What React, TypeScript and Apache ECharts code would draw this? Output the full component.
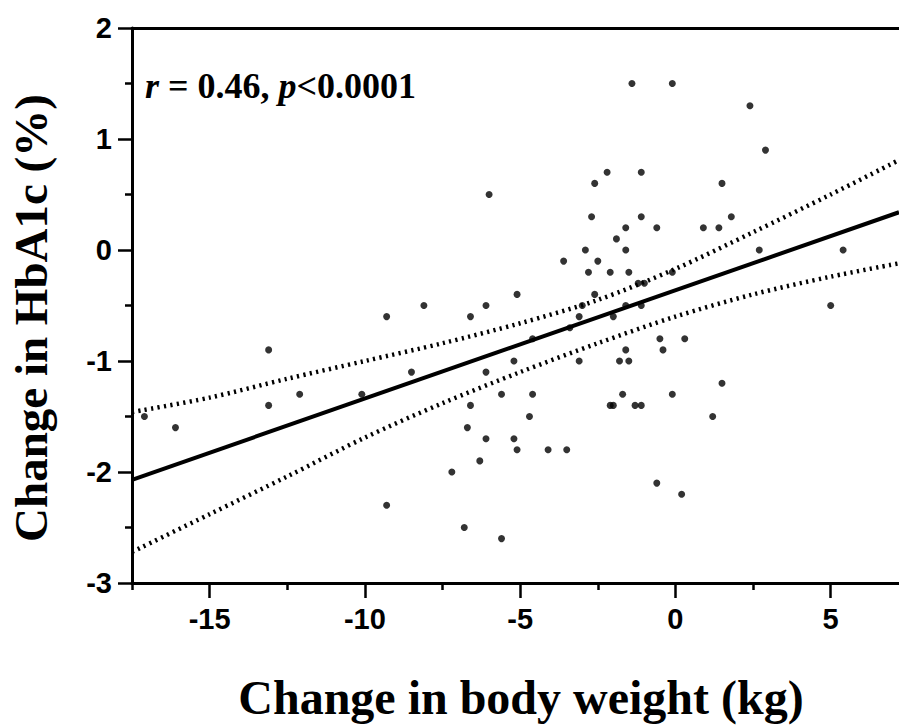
import React, { useEffect, useRef } from "react";
import * as echarts from "echarts";

// Scatter data: change in body weight (kg) vs change in HbA1c (%)
const weightChange = [
  -17.1, -16.1, -13.1, -13.1, -12.1, -10.1, -9.3, -9.3, -8.1, -8.5,
  -7.2, -6.8, -6.7, -6.6, -6.6, -6.3, -6.1, -6.1, -6.1, -6.0,
  -5.6, -5.6, -5.2, -5.2, -5.1, -5.1, -4.7, -4.6, -4.6, -4.1,
  -3.6, -3.5, -3.4, -3.1, -3.0, -3.1, -2.9, -2.8, -2.7, -2.6,
  -2.6, -2.5, -2.2, -2.1, -2.1, -2.0, -2.0, -1.9, -1.8, -1.7,
  -1.6, -1.6, -1.6, -1.6, -1.5, -1.5, -1.4, -1.3, -1.2, -1.1,
  -1.1, -1.1, -1.1, -1.0, -0.6, -0.6, -0.5, -0.4, -0.1, -0.1,
  -0.1, 0.2, 0.3, 0.9, 1.2, 1.4, 1.5, 1.5, 1.8, 2.4,
  2.7, 2.9, 5.0, 5.4,
];
const hba1cChange = [
  -1.5, -1.6, -0.9, -1.4, -1.3, -1.3, -0.6, -2.3, -0.5, -1.1,
  -2.0, -2.5, -1.6, -0.6, -1.4, -1.9, -0.5, -1.1, -1.7, 0.5,
  -1.3, -2.6, -1.0, -1.7, -0.4, -1.8, -1.5, -0.8, -1.3, -1.8,
  -0.1, -1.8, -0.7, -0.6, -0.5, -1.0, 0.0, -0.2, 0.3, 0.6,
  -0.4, -0.1, 0.7, -0.2, -1.4, -1.4, -0.6, 0.1, -1.0, -1.3,
  0.2, 0.0, -0.5, -0.9, -0.2, -1.0, 1.5, -1.4, -0.3, 0.7,
  0.3, -0.5, -1.4, -0.3, 0.2, -2.1, -0.8, -0.9, 1.5, -0.2,
  -1.3, -2.2, -0.8, 0.2, -1.5, 0.2, 0.6, -1.2, 0.3, 1.3,
  0.0, 0.9, -0.5, 0.0,
];

// Regression line and 95% confidence band
const fitX = [-17.5, 7.2];
const fitY = [-2.07, 0.34];
const bandX = [-17.5, -15, -12.5, -10, -7.5, -5, -2.5, 0, 2.5, 5, 7.2];
const upperY = [-1.46, -1.33, -1.16, -1.0, -0.84, -0.66, -0.45, -0.17, 0.16, 0.5, 0.81];
const lowerY = [-2.72, -2.38, -2.04, -1.69, -1.38, -1.1, -0.84, -0.6, -0.4, -0.24, -0.12];

// Axis ticks
const xMajorTicks = [-15, -10, -5, 0, 5];
const xMinorTicks = [-17.5, -12.5, -7.5, -2.5, 2.5];

const tickFont = '"Liberation Sans", Arial, sans-serif';
const serifFont = '"Liberation Serif", "Times New Roman", serif';

export default function App() {
  const ref = useRef<HTMLDivElement>(null);

  useEffect(() => {
    const chart = echarts.init(ref.current!, null, { renderer: "svg" });
    const zip = (a: number[], b: number[]) => a.map((v, i) => [v, b[i]]);
    const black = "#000";
    const dotted = { color: black, width: 4.5, type: [2.2, 4.3] as number[] };

    chart.setOption({
      animation: false,
      backgroundColor: "#fff",
      grid: { left: 132, top: 28, width: 767, height: 555 },
      xAxis: [
        {
          type: "value",
          min: -17.5,
          max: 7.2,
          interval: 2.5,
          position: "bottom",
          axisLine: { show: true, onZero: false, lineStyle: { color: black, width: 3 } },
          axisTick: { show: true, customValues: xMinorTicks, length: 7, lineStyle: { color: black, width: 2.5 } },
          axisLabel: {
            show: true,
            customValues: xMajorTicks,
            margin: 21,
            fontSize: 29,
            fontWeight: "bold",
            fontFamily: tickFont,
            color: black,
          },
          splitLine: { show: false },
        },
        {
          type: "value",
          min: -17.5,
          max: 7.2,
          interval: 2.5,
          position: "bottom",
          axisLine: { show: false, onZero: false },
          axisTick: { show: true, customValues: xMajorTicks, length: 15, lineStyle: { color: black, width: 2.5 } },
          axisLabel: { show: false },
          splitLine: { show: false },
        },
        {
          type: "value",
          min: -17.5,
          max: 7.2,
          position: "top",
          axisLine: { show: true, onZero: false, lineStyle: { color: black, width: 3 } },
          axisTick: { show: false },
          axisLabel: { show: false },
          splitLine: { show: false },
        },
      ],
      yAxis: {
        type: "value",
        min: -3,
        max: 2,
        interval: 1,
        axisLine: { show: true, onZero: false, lineStyle: { color: black, width: 3 } },
        axisTick: { show: true, length: 14, lineStyle: { color: black, width: 2.5 } },
        minorTick: { show: true, splitNumber: 2, length: 7, lineStyle: { color: black, width: 2.5 } },
        axisLabel: {
          margin: 20,
          fontSize: 29,
          fontWeight: "bold",
          fontFamily: tickFont,
          color: black,
        },
        splitLine: { show: false },
        minorSplitLine: { show: false },
      },
      series: [
        {
          type: "line",
          data: zip(fitX, fitY),
          symbol: "none",
          lineStyle: { color: black, width: 4 },
          silent: true,
          z: 3,
        },
        {
          type: "line",
          data: zip(bandX, upperY),
          symbol: "none",
          smooth: 0.3,
          lineStyle: dotted,
          silent: true,
          z: 3,
        },
        {
          type: "line",
          data: zip(bandX, lowerY),
          symbol: "none",
          smooth: 0.3,
          lineStyle: dotted,
          silent: true,
          z: 3,
        },
        {
          type: "scatter",
          data: zip(weightChange, hba1cChange),
          symbol: "circle",
          symbolSize: 7,
          itemStyle: { color: black },
          z: 4,
        },
      ],
      graphic: [
        {
          type: "text",
          x: 31,
          y: 318,
          rotation: Math.PI / 2,
          style: {
            text: "Change in HbA1c (%)",
            fontSize: 47,
            fontWeight: "bold",
            fontFamily: serifFont,
            fill: black,
            align: "center",
            verticalAlign: "middle",
          },
        },
        {
          type: "text",
          x: 521,
          y: 697,
          style: {
            text: "Change in body weight (kg)",
            fontSize: 48,
            fontWeight: "bold",
            fontFamily: serifFont,
            fill: black,
            align: "center",
            verticalAlign: "middle",
          },
        },
        {
          type: "text",
          x: 145,
          y: 86,
          style: {
            text: "{i|r} = 0.46, {i|p}<0.0001",
            fontSize: 36,
            fontWeight: "bold",
            fontFamily: serifFont,
            fill: black,
            align: "left",
            verticalAlign: "middle",
            rich: {
              i: { fontStyle: "italic", fontSize: 36, fontWeight: "bold", fontFamily: serifFont, fill: black },
            },
          },
        },
      ],
    });
    return () => chart.dispose();
  }, []);

  return (
    <div
      ref={ref}
      style={{ position: "absolute", left: 0, top: 0, width: 899, height: 725, background: "#fff" }}
    />
  );
}
